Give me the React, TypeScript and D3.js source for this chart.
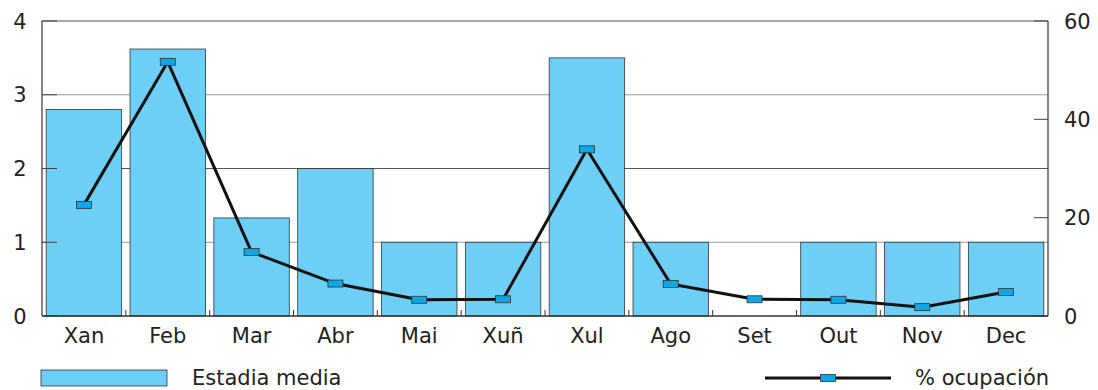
import React from "react";
import * as d3 from "d3";

const months = ["Xan", "Feb", "Mar", "Abr", "Mai", "Xuñ", "Xul", "Ago", "Set", "Out", "Nov", "Dec"];
const estadiaMedia = [2.8, 3.62, 1.33, 2, 1, 1, 3.5, 1, 0, 1, 1, 1];
const ocupacion = [22.6, 51.7, 13.0, 6.6, 3.3, 3.4, 33.9, 6.5, 3.4, 3.3, 1.8, 4.9];
const leftTicks = [0, 1, 2, 3, 4];
const rightTicks = [0, 20, 40, 60];
const legendLabels = ["Estadia media", "% ocupación"];

const W = 1098, H = 390;
const L = 42, R = 1048, T = 21, B = 316;
const FONT = "'DejaVu Sans', 'Open Sans', sans-serif";
const TEXT = "#222";
const FS = 21;

export default function App() {
  const x = d3.scaleBand<string>().domain(months).range([L, R]).paddingInner(0.1).paddingOuter(0.05);
  const xOuter = d3.scaleBand<string>().domain(months).range([L, R]);
  const yL = d3.scaleLinear().domain([0, 4]).range([B, T]);
  const yR = d3.scaleLinear().domain([0, 60]).range([B, T]);
  const line = d3.line<number>()
    .x((_, i) => (x(months[i]) as number) + x.bandwidth() / 2)
    .y((d) => yR(d));
  const mw = 15, mh = 7;
  return (
    <svg width={W} height={H} style={{ position: "absolute", left: 0, top: 0 }} fontFamily={FONT}>
      {leftTicks.filter((t) => t > 0).map((t) => (
        <line key={"g" + t} x1={L} x2={R} y1={yL(t)} y2={yL(t)} stroke={t % 2 ? "#999" : "#555"} strokeWidth={1} />
      ))}
      {estadiaMedia.map((v, i) =>
        v > 0 ? (
          <rect key={"b" + i} x={x(months[i])} y={yL(v)} width={x.bandwidth()} height={B - yL(v)}
            fill="#6dcff6" stroke="#333" strokeWidth={0.8} />
        ) : null
      )}
      <line x1={L} x2={L} y1={T} y2={B} stroke="#333" strokeWidth={1.2} />
      {leftTicks.map((t) => (
        <g key={"lt" + t}>
          <line x1={L} x2={L + 15} y1={yL(t)} y2={yL(t)} stroke="#444" strokeWidth={1} />
          <text x={20} y={yL(t)} dy="0.36em" textAnchor="middle" fontSize={FS} fill={TEXT}>{t}</text>
        </g>
      ))}
      <line x1={R} x2={R} y1={T} y2={B} stroke="#333" strokeWidth={1.2} />
      {rightTicks.map((t) => (
        <g key={"rt" + t}>
          <line x1={R - 14} x2={R} y1={yR(t)} y2={yR(t)} stroke="#444" strokeWidth={1} />
          <text x={1064} y={yR(t)} dy="0.36em" textAnchor="start" fontSize={FS} fill={TEXT}>{t}</text>
        </g>
      ))}
      <line x1={L} x2={R} y1={B} y2={B} stroke="#333" strokeWidth={1.5} />
      {months.slice(1).map((m) => (
        <line key={"bt" + m} x1={xOuter(m)} x2={xOuter(m)} y1={B - 6} y2={B} stroke="#333" strokeWidth={1} />
      ))}
      {months.map((m) => (
        <text key={"xl" + m} x={(x(m) as number) + x.bandwidth() / 2} y={343} textAnchor="middle" fontSize={FS} fill={TEXT}>{m}</text>
      ))}
      <path d={line(ocupacion) || ""} fill="none" stroke="#111" strokeWidth={3} strokeLinejoin="round" />
      {ocupacion.map((v, i) => (
        <rect key={"m" + i} x={(x(months[i]) as number) + x.bandwidth() / 2 - mw / 2} y={yR(v) - mh / 2}
          width={mw} height={mh} fill="#0aa8e6" stroke="#333" strokeWidth={0.8} />
      ))}
      <rect x={41} y={370} width={126} height={16} fill="#6dcff6" stroke="#333" strokeWidth={0.8} />
      <text x={192} y={385} fontSize={FS} fill={TEXT}>{legendLabels[0]}</text>
      <line x1={765} x2={891} y1={378} y2={378} stroke="#111" strokeWidth={3} />
      <rect x={828 - mw / 2} y={378 - mh / 2} width={mw} height={mh} fill="#0aa8e6" stroke="#333" strokeWidth={0.8} />
      <text x={915} y={385} fontSize={FS} fill={TEXT}>{legendLabels[1]}</text>
    </svg>
  );
}
